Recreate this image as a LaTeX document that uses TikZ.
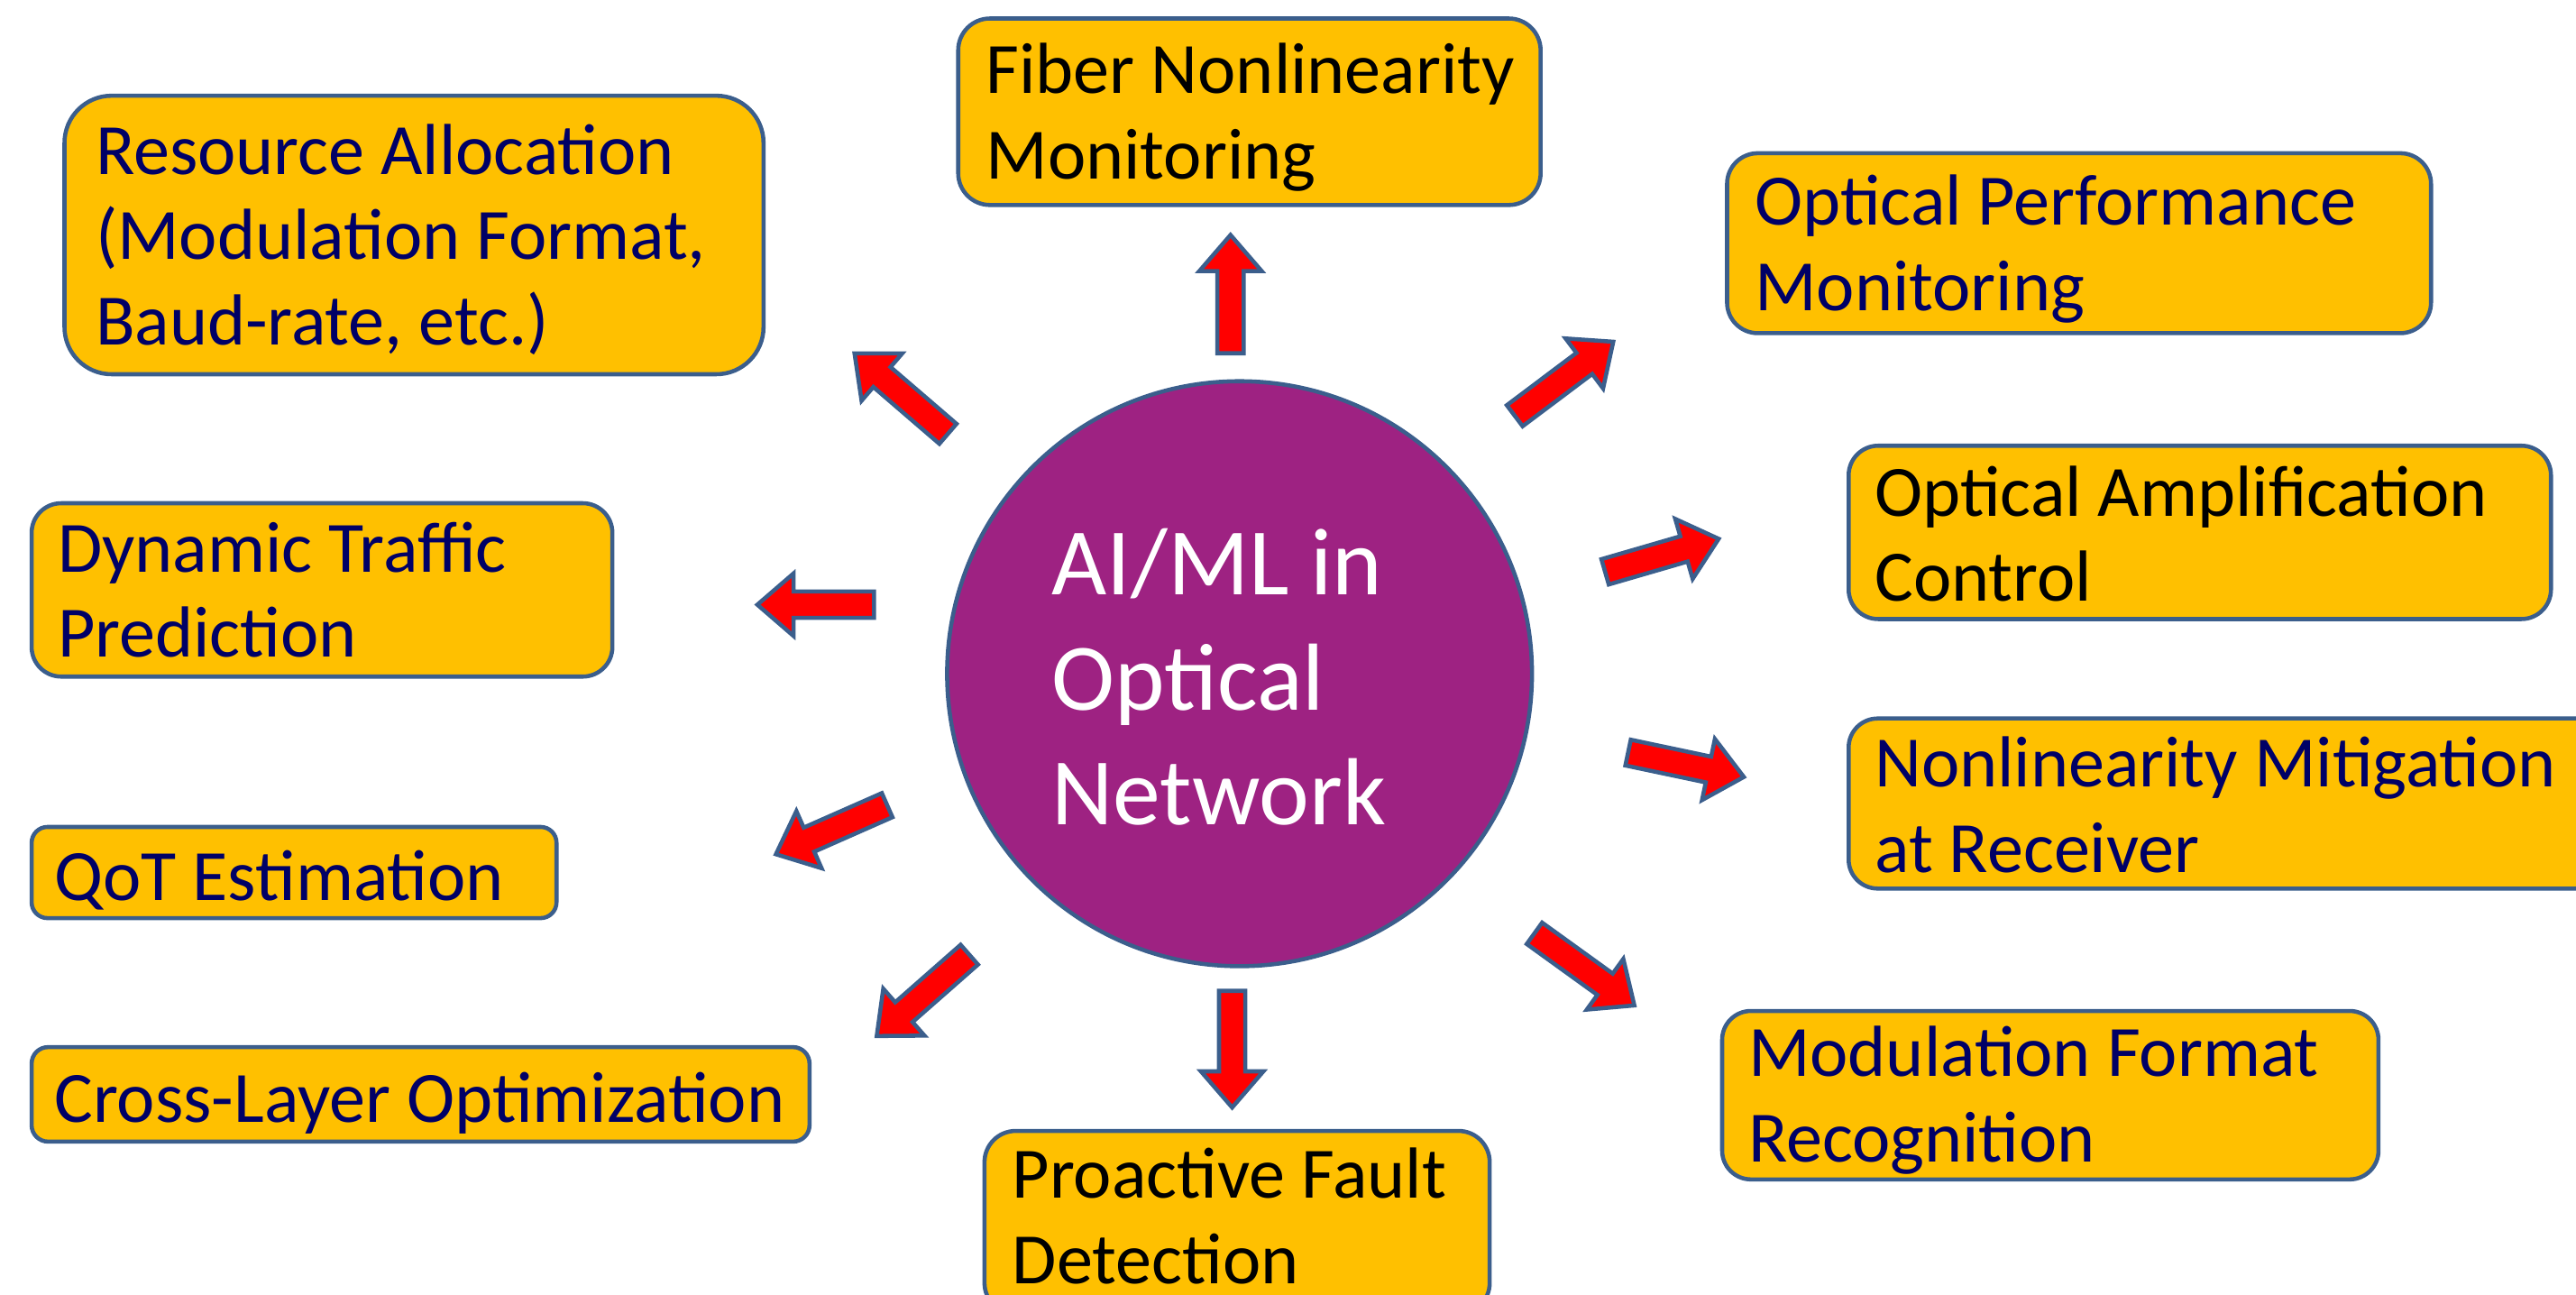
\documentclass[tikz,border=0pt]{standalone}
\usepackage{fontspec}
\setmainfont{Carlito}
\definecolor{gold}{HTML}{FFC000}
\definecolor{edge}{HTML}{3B5E8C}
\definecolor{navy}{HTML}{000066}
\definecolor{plum}{HTML}{9E2282}
\newcommand{\blockarrow}[3]{%
  \begin{scope}[shift={#1}, rotate=#2]
    \draw[arrowbox] (0,8) -- ({#3-22},8) -- ({#3-22},19) -- (#3,0) -- ({#3-22},-19) -- ({#3-22},-8) -- (0,-8) -- cycle;
  \end{scope}}
\begin{document}
\begin{tikzpicture}[x=1pt,y=-1pt,
  box/.style={draw=edge, line width=2.5pt, fill=gold, inner sep=0pt, outer sep=0pt},
  boxtext/.style={anchor=base west, inner sep=0pt, align=left, font=\fontsize{44}{52}\selectfont},
  arrowbox/.style={draw=edge, line width=2.5pt, fill=red, line join=miter},
  hub/.style={circle, draw=edge, line width=2.5pt, fill=plum, minimum size=356pt, inner sep=0pt}]
\useasboundingbox (0,0) rectangle (1568,788);
\clip (0,0) rectangle (1568,788);
% hub
\node[hub] (hub) at (754.5,410) {};
\node[anchor=west, inner sep=0pt, align=left, text=white, font=\fontsize{58}{70}\selectfont] (hubtext) at (640,412) {AI/ML in\\Optical\\Network};
% boxes: (x1,y1,x2,y2)
\newcommand{\mkbox}[5]{%
  \node[box, rounded corners={0.1667*(#5-#3)}, minimum width={#4-#2-2.5}, minimum height={#5-#3-2.5}] (#1) at ({(#2+#4)/2},{(#3+#5)/2}) {};}
\mkbox{res}{38}{57}{466}{229}
\mkbox{fib}{582}{10}{939}{126}
\mkbox{opm}{1050}{92}{1481}{204}
\mkbox{oac}{1124}{270}{1554}{378}
\mkbox{nlm}{1124}{436}{1610}{542}
\mkbox{mfr}{1047}{614}{1449}{719}
\mkbox{pfd}{598}{687}{908}{801}
\mkbox{clo}{18}{636}{494}{696}
\mkbox{qot}{18}{502}{340}{560}
\mkbox{dtp}{18}{305}{374}{413}
% text nodes: anchor = baseline of last line
\node[boxtext, text=navy] (tres) at (58,210) {Resource Allocation\\(Modulation Format,\\Baud-rate, etc.)};
\node[boxtext, text=black] (tfib) at (600,109) {Fiber Nonlinearity\\Monitoring};
\node[boxtext, text=navy] (topm) at (1068,189) {Optical Performance\\Monitoring};
\node[boxtext, text=black] (toac) at (1141,366) {Optical Amplification\\Control};
\node[boxtext, text=navy] (tnlm) at (1141,531) {Nonlinearity Mitigation\\at Receiver};
\node[boxtext, text=navy] (tmfr) at (1064,707) {Modulation Format\\Recognition};
\node[boxtext, text=black] (tpfd) at (616,781) {Proactive Fault\\Detection};
\node[boxtext, text=navy] (tclo) at (33,683) {Cross-Layer Optimization};
\node[boxtext, text=navy] (tqot) at (33,548) {QoT Estimation};
\node[boxtext, text=navy] (tdtp) at (35,400) {Dynamic Traffic\\Prediction};
% arrow tails
\coordinate (a1) at (749,215);
\coordinate (a2) at (577,264);
\coordinate (a3) at (922,253);
\coordinate (a4) at (977,348);
\coordinate (a5) at (991,458);
\coordinate (a6) at (934,568);
\coordinate (a7) at (750,603);
\coordinate (a8) at (590,581);
\coordinate (a9) at (540,490);
\coordinate (a10) at (532,368);
\blockarrow{(a1)}{90}{72}
\blockarrow{(a2)}{139.3}{75}
\blockarrow{(a3)}{36.9}{75}
\blockarrow{(a4)}{16.2}{72}
\blockarrow{(a5)}{-11.9}{72}
\blockarrow{(a6)}{-35.8}{75}
\blockarrow{(a7)}{-90}{71}
\blockarrow{(a8)}{-138.7}{75}
\blockarrow{(a9)}{-156.2}{74}
\blockarrow{(a10)}{180}{71}
\end{tikzpicture}
\end{document}
